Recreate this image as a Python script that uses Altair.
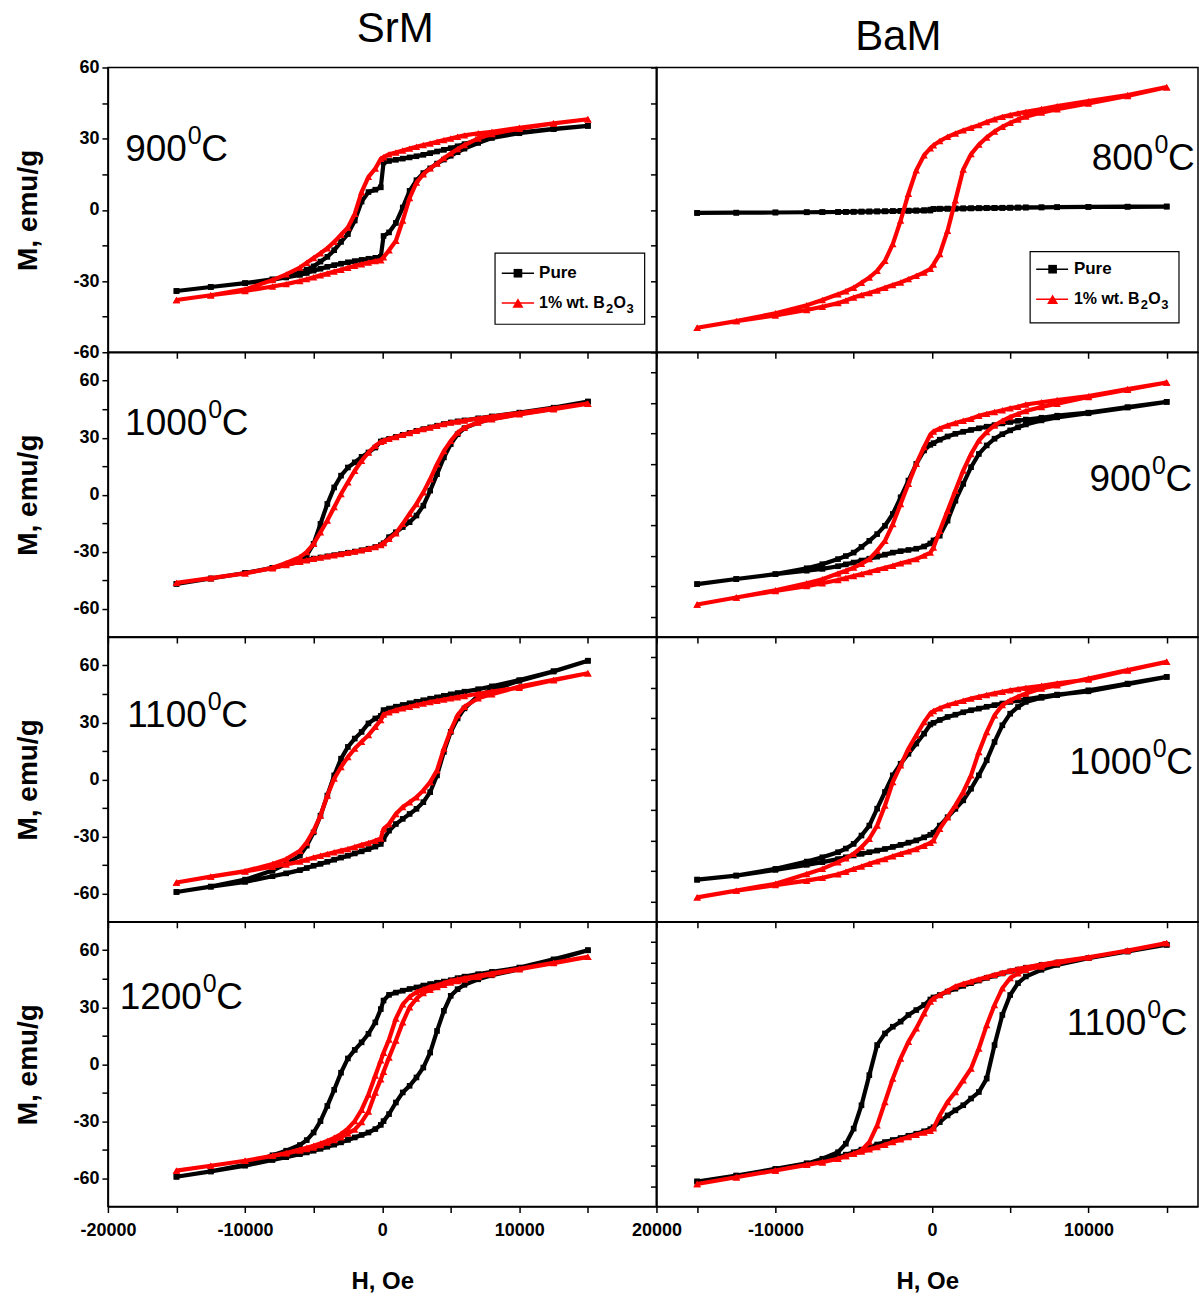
import altair as alt
import pandas as pd

NARROW = "'Liberation Sans Narrow', 'Arial Narrow', 'Liberation Sans', Arial, sans-serif"
SANS = "'Liberation Sans', Arial, sans-serif"

# Field grid (Oe), shared by all loops
H = [-15000, -12500, -10000, -8000, -7000, -6000, -5500, -5000, -4500, -4000, -3500, -3000,
     -2500, -2000, -1500, -1000, -500, -100, 100, 500, 1000, 1500, 2000, 2500, 3000, 3500,
     4000, 4500, 5000, 5500, 6000, 7000, 8000, 10000, 12500, 15000]

# ---- SrM 900 C ----
srm900_pure_lo = [-34.2,-32.5,-30.9,-29.4,-28.5,-27.4,-26.6,-25.6,-24.8,-24.0,-23.3,-22.7,-22.1,-21.6,-21.1,-20.6,-20.2,-19.8,-11.0,-9.5,-5.5,1.0,8.0,12.5,15.5,17.5,19.5,21.2,22.8,24.3,25.8,28.2,30.3,32.3,34.0,35.4]
srm900_pure_up = [-34.2,-32.5,-30.9,-29.3,-28.2,-26.3,-25.2,-23.8,-21.8,-19.8,-17.0,-13.5,-10.2,-4.5,3.5,7.5,8.5,9.5,20.0,20.6,21.1,21.6,22.1,22.6,23.2,23.9,24.6,25.3,26.0,26.8,27.7,29.6,30.8,32.6,34.1,35.4]
srm900_b_lo = [-38.0,-36.0,-34.2,-32.3,-31.3,-30.0,-29.2,-28.4,-27.6,-26.8,-26.0,-25.2,-24.4,-23.6,-22.9,-22.2,-21.6,-21.2,-20.0,-17.0,-13.0,-4.5,5.0,11.5,15.0,17.5,19.5,21.8,23.8,25.6,27.3,30.1,32.0,34.2,36.4,38.2]
srm900_b_up = [-38.0,-36.0,-33.5,-29.6,-27.2,-24.3,-22.3,-20.3,-18.3,-16.2,-13.5,-10.5,-7.4,-1.7,7.5,13.9,17.4,21.5,22.2,23.4,24.2,25.0,25.8,26.6,27.3,28.0,28.7,29.4,30.1,30.8,31.4,32.3,32.9,34.6,36.5,38.2]

# ---- BaM 800 C ----
bam800_pure_lo = [-1.3,-1.2,-1.1,-1.0,-0.95,-0.9,-0.85,-0.8,-0.75,-0.7,-0.65,-0.6,-0.55,-0.5,-0.45,-0.4,-0.35,-0.3,0.3,0.4,0.45,0.5,0.55,0.6,0.65,0.7,0.75,0.8,0.85,0.9,0.95,1.0,1.1,1.2,1.3,1.4]
bam800_pure_up = [-1.3,-1.2,-1.1,-1.0,-0.95,-0.9,-0.85,-0.8,-0.75,-0.7,-0.65,-0.6,-0.5,-0.4,-0.3,-0.2,-0.1,0.1,0.4,0.5,0.55,0.6,0.65,0.7,0.75,0.8,0.85,0.9,0.95,1.0,1.05,1.1,1.15,1.25,1.35,1.4]
bam800_b_lo = [-49.7,-46.9,-44.5,-42.2,-40.8,-39.3,-38.2,-36.9,-35.9,-35.0,-34.0,-32.8,-31.7,-30.6,-29.2,-27.8,-26.4,-24.8,-23.0,-18.6,-8.8,4.0,17.0,23.5,27.5,30.5,33.0,35.0,36.7,38.1,39.3,41.0,42.4,44.8,48.0,51.7]
bam800_b_up = [-49.7,-46.9,-43.6,-40.2,-38.0,-35.6,-34.3,-32.8,-30.7,-28.5,-25.7,-21.5,-14.4,-4.5,6.8,16.7,23.0,26.0,27.2,29.0,30.8,32.2,33.5,34.6,35.7,37.0,38.2,39.2,40.0,40.7,41.3,42.5,43.7,45.8,48.4,51.7]

# ---- SrM 1000 C ----
srm1000_pure_lo = [-47.0,-44.2,-41.3,-38.6,-36.9,-35.3,-34.5,-33.7,-33.1,-32.5,-31.9,-31.3,-30.6,-30.0,-29.3,-28.5,-27.6,-26.6,-25.6,-22.4,-19.8,-17.1,-14.5,-11.0,-5.8,2.1,10.8,19.6,26.6,31.8,35.0,38.0,39.9,42.5,45.3,49.0]
srm1000_pure_up = [-47.0,-44.2,-41.3,-38.6,-36.9,-34.6,-32.0,-25.9,-15.4,-4.9,3.8,10.0,14.3,17.0,19.9,22.2,24.8,28.0,28.5,29.4,30.4,31.5,32.5,33.6,34.5,35.4,36.3,37.2,38.0,38.6,39.1,40.2,41.2,43.2,45.8,49.0]
srm1000_b_lo = [-46.5,-44.0,-41.5,-38.8,-37.1,-35.4,-34.6,-33.8,-33.1,-32.5,-31.9,-31.3,-30.6,-30.0,-29.3,-28.5,-27.6,-26.6,-25.5,-23.3,-20.3,-15.4,-10.1,-4.9,1.2,8.2,16.1,23.0,28.3,32.7,35.3,38.0,39.7,42.3,45.0,47.9]
srm1000_b_up = [-46.5,-44.0,-41.5,-38.5,-36.0,-32.9,-30.2,-25.9,-19.8,-13.6,-6.6,0.3,6.5,12.6,17.8,22.2,25.7,27.8,28.4,29.4,30.4,31.5,32.5,33.6,34.5,35.4,36.3,37.2,38.0,38.5,39.0,40.1,41.1,43.0,45.5,47.9]

# ---- BaM 900 C ----
bam900_pure_lo = [-44.0,-41.5,-39.1,-37.4,-36.5,-35.2,-34.3,-33.4,-32.4,-31.5,-30.5,-29.5,-28.5,-27.8,-27.2,-26.6,-25.5,-24.0,-22.5,-20.2,-12.8,-3.0,5.3,13.5,20.0,24.2,27.5,29.7,31.6,33.1,34.5,36.5,38.0,40.0,42.8,45.6]
bam900_pure_up = [-44.0,-41.5,-39.1,-36.2,-34.2,-31.7,-30.2,-28.5,-25.7,-22.7,-19.4,-15.3,-9.5,-1.3,6.9,15.1,21.7,24.5,25.3,27.0,28.6,29.9,30.9,31.8,32.6,33.4,34.2,35.0,35.7,36.3,36.9,37.8,38.8,40.3,43.0,45.6]
bam900_b_lo = [-54.0,-50.6,-47.4,-45.0,-43.6,-42.0,-41.0,-40.0,-39.0,-38.0,-37.0,-36.0,-35.0,-33.8,-32.8,-31.7,-30.0,-28.5,-26.0,-17.8,-7.9,2.0,11.8,20.0,26.6,30.8,34.0,36.3,38.2,39.7,41.1,43.1,44.7,48.0,51.6,55.1]
bam900_b_up = [-54.0,-50.6,-47.0,-43.6,-41.6,-38.8,-37.4,-35.9,-34.0,-31.7,-27.6,-22.7,-14.5,-4.6,5.3,15.1,23.4,29.5,31.0,32.5,34.0,35.2,36.3,37.3,38.8,39.7,40.6,41.5,42.5,43.2,44.3,45.4,46.5,48.4,51.9,55.1]

# ---- SrM 1100 C ----
srm1100_pure_lo = [-59.3,-56.5,-54.0,-51.0,-49.5,-47.8,-46.7,-45.5,-44.5,-43.4,-42.3,-41.2,-40.2,-39.0,-37.9,-36.7,-35.4,-34.0,-31.4,-27.0,-23.5,-20.8,-18.2,-15.5,-12.0,-6.7,2.1,14.5,25.0,32.1,37.4,44.1,47.1,51.9,56.8,62.5]
srm1100_pure_up = [-59.3,-56.5,-52.8,-48.0,-44.5,-40.2,-34.9,-27.9,-19.1,-8.5,2.1,10.9,17.1,21.5,25.0,29.5,32.1,33.5,36.5,37.3,38.3,39.2,40.1,40.9,41.7,42.5,43.2,44.0,44.8,45.5,46.2,47.5,49.0,52.3,57.0,62.5]
srm1100_b_lo = [-54.3,-51.2,-48.5,-46.0,-44.8,-43.3,-42.2,-41.1,-40.2,-39.3,-38.4,-37.5,-36.7,-35.6,-34.5,-33.5,-32.3,-31.1,-26.1,-23.5,-18.2,-14.6,-12.0,-9.4,-5.8,-1.4,4.8,16.2,25.9,33.9,38.3,42.7,44.8,48.9,52.4,55.9]
srm1100_b_up = [-54.3,-51.2,-48.3,-44.6,-42.0,-37.6,-33.2,-27.0,-19.1,-8.5,0.4,6.5,11.8,16.2,19.8,23.3,27.7,31.2,34.2,35.3,36.5,37.4,38.3,39.2,40.0,40.8,41.4,42.0,42.7,43.3,43.9,45.1,46.3,48.3,52.2,55.9]

# ---- BaM 1000 C ----
bam1000_pure_lo = [-49.3,-47.3,-44.5,-42.0,-40.7,-39.2,-38.3,-37.4,-36.6,-35.8,-35.0,-34.2,-33.2,-32.2,-31.1,-30.0,-28.5,-27.2,-26.2,-22.7,-18.6,-14.5,-10.3,-4.6,2.0,9.4,18.4,26.6,32.3,35.6,38.1,40.1,41.4,43.8,47.1,50.4]
bam1000_pure_up = [-49.3,-47.3,-44.0,-40.4,-38.3,-35.8,-34.0,-31.7,-27.6,-22.7,-14.4,-6.2,2.0,7.7,12.6,17.6,22.5,27.0,27.8,29.2,30.7,31.8,33.0,34.0,34.8,35.7,36.5,37.3,38.1,38.8,39.4,40.6,41.7,43.3,46.8,50.4]
bam1000_b_lo = [-58.0,-54.7,-52.0,-49.8,-48.4,-46.6,-45.4,-44.0,-42.8,-41.5,-40.3,-39.1,-37.8,-36.6,-35.4,-34.2,-32.6,-31.2,-30.0,-24.3,-18.6,-12.8,-6.2,2.0,13.5,23.3,31.5,36.5,38.9,40.7,42.2,44.7,46.3,49.6,53.7,57.8]
bam1000_b_up = [-58.0,-54.7,-51.3,-46.5,-44.0,-40.7,-38.8,-36.6,-33.3,-29.2,-22.7,-12.8,-1.3,6.9,15.1,21.7,28.2,32.5,33.6,35.0,36.5,37.6,38.7,39.7,40.6,41.5,42.3,43.1,43.8,44.4,45.0,46.0,47.2,49.1,53.5,57.8]

# ---- SrM 1200 C ----
srm1200_pure_lo = [-59.3,-56.5,-53.5,-50.5,-49.0,-47.4,-46.5,-45.6,-44.6,-43.5,-42.4,-41.2,-39.9,-38.6,-37.3,-36.0,-34.2,-32.0,-30.0,-26.3,-20.2,-14.9,-11.4,-7.0,-1.8,6.1,17.5,28.1,36.0,39.5,41.8,44.7,46.8,50.0,54.7,60.0]
srm1200_pure_up = [-59.3,-56.5,-53.0,-48.0,-45.6,-42.6,-40.0,-36.0,-30.0,-22.0,-13.5,-4.5,3.0,7.5,11.5,16.0,22.0,29.0,33.5,36.5,37.7,38.7,39.6,40.4,41.4,42.2,42.9,43.5,44.2,45.3,46.1,47.4,48.6,50.9,55.2,60.0]
srm1200_b_lo = [-56.1,-53.5,-50.9,-48.3,-47.0,-45.5,-44.7,-43.9,-42.6,-41.3,-40.0,-38.5,-36.5,-34.5,-30.5,-25.0,-15.0,-8.0,-4.0,3.5,12.5,22.0,30.0,34.5,37.5,39.2,40.6,41.8,43.0,43.8,44.6,46.0,47.4,50.0,53.2,56.5]
srm1200_b_up = [-56.1,-53.5,-50.9,-48.3,-46.8,-45.0,-44.0,-43.0,-41.8,-40.4,-38.8,-36.8,-34.0,-30.0,-24.0,-16.0,-6.0,2.0,6.0,13.0,24.0,31.5,35.5,38.0,39.5,40.7,41.6,42.8,43.9,44.6,45.3,46.5,47.8,50.2,53.4,56.5]

# ---- BaM 1100 C ----
bam1100_pure_lo = [-57.7,-54.8,-51.5,-48.7,-47.4,-45.7,-44.5,-43.3,-42.0,-40.8,-39.5,-38.3,-37.3,-36.3,-35.2,-34.2,-33.0,-31.9,-31.0,-28.5,-25.2,-22.7,-20.2,-16.9,-13.7,-7.1,9.4,24.2,34.0,39.8,43.1,46.4,48.8,52.1,55.4,58.7]
bam1100_pure_up = [-57.7,-54.8,-51.8,-49.0,-46.5,-43.3,-39.1,-31.7,-20.2,-5.4,9.4,15.1,18.4,20.9,24.2,26.6,29.1,31.8,32.8,34.0,35.7,37.1,38.5,39.8,41.1,42.4,43.5,44.6,45.6,46.5,47.4,48.8,50.0,52.1,55.4,58.7]
bam1100_b_lo = [-58.9,-55.6,-52.3,-49.5,-48.2,-46.5,-45.2,-44.0,-43.0,-41.9,-40.8,-39.6,-38.3,-37.0,-35.8,-34.7,-33.6,-32.8,-31.5,-25.2,-18.6,-13.7,-7.9,-2.1,7.7,19.2,29.1,37.3,42.3,44.7,46.4,48.0,49.7,52.5,55.8,59.5]
bam1100_b_up = [-58.9,-55.6,-52.3,-49.5,-48.2,-46.5,-45.2,-44.0,-42.4,-38.3,-30.1,-18.6,-7.1,2.8,11.0,17.6,25.0,30.8,32.3,34.0,36.0,38.2,39.5,40.6,41.7,42.8,43.9,44.9,45.9,46.8,47.6,49.0,50.3,52.5,55.9,59.5]

# Column titles, temperature labels and legend text
col_titles = ["SrM", "BaM"]
temps = [["900", "800"], ["1000", "900"], ["1100", "1000"], ["1200", "1100"]]
temp_H = [[-14244, 14150], [-12750, 14000], [-12790, 14050], [-13150, 13690]]
temp_M = [[20.7, 16.9], [31.3, 1.6], [27.8, 2.8], [29.0, 14.5]]
legend_labels = ["Pure", "1% wt. B", "2", "O", "3"]

loops = [
    [(srm900_pure_lo, srm900_pure_up, srm900_b_lo, srm900_b_up),
     (bam800_pure_lo, bam800_pure_up, bam800_b_lo, bam800_b_up)],
    [(srm1000_pure_lo, srm1000_pure_up, srm1000_b_lo, srm1000_b_up),
     (bam900_pure_lo, bam900_pure_up, bam900_b_lo, bam900_b_up)],
    [(srm1100_pure_lo, srm1100_pure_up, srm1100_b_lo, srm1100_b_up),
     (bam1000_pure_lo, bam1000_pure_up, bam1000_b_lo, bam1000_b_up)],
    [(srm1200_pure_lo, srm1200_pure_up, srm1200_b_lo, srm1200_b_up),
     (bam1100_pure_lo, bam1100_pure_up, bam1100_b_lo, bam1100_b_up)],
]

X_DOM = [[-20000, 20000], [-17600, 17000]]
X_TICKS = [[-20000, -15000, -10000, -5000, 0, 5000, 10000, 15000, 20000],
           [-15000, -10000, -5000, 0, 5000, 10000, 15000]]
Y15 = [-60, -45, -30, -15, 0, 15, 30, 45, 60]
Y10 = [-60, -50, -40, -30, -20, -10, 0, 10, 20, 30, 40, 50, 60]

# legend boxes (data coords of the first row panels)
LEG = [
    dict(bx=[8230, 19140], by=[-18.2, -48.2], line=[8720, 11075], mk=9900, tx=11440, rows=[-26.7, -39.2]),
    dict(bx=[6275, 15785], by=[-17.6, -47.6], line=[6660, 8700], mk=7710, tx=9070, rows=[-25.0, -37.7]),
]

PW = [549, 542]
PH = 285


def loop_frame(lo, up):
    n = len(H)
    rows = []
    for i in range(n):
        rows.append({"H": H[i], "M": lo[i], "o": i})
    for j in range(n):
        k = n - 1 - j
        rows.append({"H": H[k], "M": up[k], "o": n + j})
    return pd.DataFrame(rows)


def panel(r, c):
    bottom = r == 3
    if r == 0:
        ydom = [-60, 60]
    elif c == 0:
        ydom = [-75, 75]
    else:
        ydom = [-70, 70]
    yt = Y10 if (r == 3 and c == 1) else Y15
    xs = alt.Scale(domain=X_DOM[c], nice=False, zero=False)
    ys = alt.Scale(domain=ydom, nice=False, zero=False)
    if bottom:
        xaxis = alt.Axis(values=X_TICKS[c], labelExpr="datum.value % 10000 == 0 ? toString(datum.value) : ''",
                         title="H, Oe", titlePadding=30, labelFlush=False, labelOverlap=False,
                         labelPadding=9)
    else:
        xaxis = alt.Axis(values=X_TICKS[c], labels=False, title=None)
    if c == 0:
        yaxis = alt.Axis(values=yt, labelExpr="datum.value % 30 == 0 ? toString(datum.value) : ''",
                         title="M, emu/g", titlePadding=30, labelFlush=False, labelOverlap=False,
                         titleFontSize=28, labelPadding=3)
    else:
        yaxis = alt.Axis(values=yt, labels=False, title=None)

    def X(f):
        return alt.X(f, type="quantitative", scale=xs, axis=xaxis)

    def Y(f):
        return alt.Y(f, type="quantitative", scale=ys, axis=yaxis)

    p_lo, p_up, b_lo, b_up = loops[r][c]
    dp = loop_frame(p_lo, p_up)
    db = loop_frame(b_lo, b_up)
    layers = [
        alt.Chart(dp).mark_line(color="black", strokeWidth=4.2).encode(x=X("H"), y=Y("M"), order="o:Q"),
        alt.Chart(dp).mark_point(shape="square", filled=True, size=32, color="black", opacity=1)
        .encode(x=X("H"), y=Y("M")),
        alt.Chart(db).mark_line(color="#ff0000", strokeWidth=4.2).encode(x=X("H"), y=Y("M"), order="o:Q"),
        alt.Chart(db).mark_point(shape="triangle-up", filled=True, size=55, color="#ff0000", opacity=1)
        .encode(x=X("H"), y=Y("M")),
    ]
    tdf = pd.DataFrame({"H": [temp_H[r][c]], "M": [temp_M[r][c]], "num": [temps[r][c]],
                        "sup": ["0"], "cc": ["C"]})
    layers += [
        alt.Chart(tdf).mark_text(align="right", baseline="alphabetic", font=NARROW, fontSize=37, color="black")
        .encode(x=X("H"), y=Y("M"), text="num:N"),
        alt.Chart(tdf).mark_text(align="left", baseline="alphabetic", font=NARROW, fontSize=25, color="black",
                                 dx=1, dy=-17).encode(x=X("H"), y=Y("M"), text="sup:N"),
        alt.Chart(tdf).mark_text(align="left", baseline="alphabetic", font=NARROW, fontSize=37, color="black",
                                 dx=14.5).encode(x=X("H"), y=Y("M"), text="cc:N"),
    ]
    if r == 0:
        L = LEG[c]
        box = pd.DataFrame({"x0": [L["bx"][0]], "x1": [L["bx"][1]], "y0": [L["by"][0]], "y1": [L["by"][1]]})
        seg = pd.DataFrame({"x0": [L["line"][0]] * 2, "x1": [L["line"][1]] * 2, "y": L["rows"],
                            "s": ["Pure", "B"]})
        mk_p = pd.DataFrame({"x": [L["mk"]], "y": [L["rows"][0]]})
        mk_b = pd.DataFrame({"x": [L["mk"]], "y": [L["rows"][1]]})
        txt = pd.DataFrame({"x": [L["tx"]], "y1": [L["rows"][0]], "y2": [L["rows"][1]],
                            "a": [legend_labels[0]], "b": [legend_labels[1]], "s2": [legend_labels[2]],
                            "o": [legend_labels[3]], "s3": [legend_labels[4]]})
        tkw = dict(align="left", baseline="middle", font=NARROW, fontWeight="bold", color="black")
        layers += [
            alt.Chart(box).mark_rect(fill="white", stroke="black", strokeWidth=1.2)
            .encode(x=X("x0"), x2="x1", y=Y("y0"), y2="y1"),
            alt.Chart(seg).mark_rule(strokeWidth=1.5)
            .encode(x=X("x0"), x2="x1", y=Y("y"),
                    color=alt.Color("s:N", scale=alt.Scale(domain=["Pure", "B"], range=["black", "#ff0000"]),
                                    legend=None)),
            alt.Chart(mk_p).mark_point(shape="square", filled=True, size=75, color="black", opacity=1)
            .encode(x=X("x"), y=Y("y")),
            alt.Chart(mk_b).mark_point(shape="triangle-up", filled=True, size=120, color="#ff0000", opacity=1)
            .encode(x=X("x"), y=Y("y")),
            alt.Chart(txt).mark_text(fontSize=17, **tkw).encode(x=X("x"), y=Y("y1"), text="a:N"),
            alt.Chart(txt).mark_text(fontSize=16, **tkw).encode(x=X("x"), y=Y("y2"), text="b:N"),
            alt.Chart(txt).mark_text(fontSize=13, dx=67, dy=6, **tkw).encode(x=X("x"), y=Y("y2"), text="s2:N"),
            alt.Chart(txt).mark_text(fontSize=16, dx=74.5, **tkw).encode(x=X("x"), y=Y("y2"), text="o:N"),
            alt.Chart(txt).mark_text(fontSize=13, dx=87.5, dy=6, **tkw).encode(x=X("x"), y=Y("y2"), text="s3:N"),
        ]
    ch = alt.layer(*layers).properties(width=PW[c], height=PH)
    if r == 0:
        ch = ch.properties(title=alt.TitleParams(text=col_titles[c], font=NARROW, fontSize=42,
                                                 fontWeight="normal", color="black", anchor="middle",
                                                 dx=13 if c == 0 else -29, offset=8))
    return ch


panels = [panel(r, c) for r in range(4) for c in range(2)]
chart = (
    alt.concat(*panels, columns=2, spacing=0, bounds="flush")
    .properties(padding={"left": 14, "top": 6, "right": 0, "bottom": 4}, background="white")
    .configure_view(stroke="black", strokeWidth=1.5)
    .configure_axis(domainColor="black", domainWidth=1.5, tickColor="black", tickWidth=1.5,
                    tickSize=6, grid=False, labelFont=NARROW, labelFontWeight="bold",
                    labelFontSize=18, labelColor="black", titleFont=SANS, titleFontWeight="bold",
                    titleFontSize=24, titleColor="black")
)

chart.save("out.html", embed_options={"renderer": "svg", "actions": False})
